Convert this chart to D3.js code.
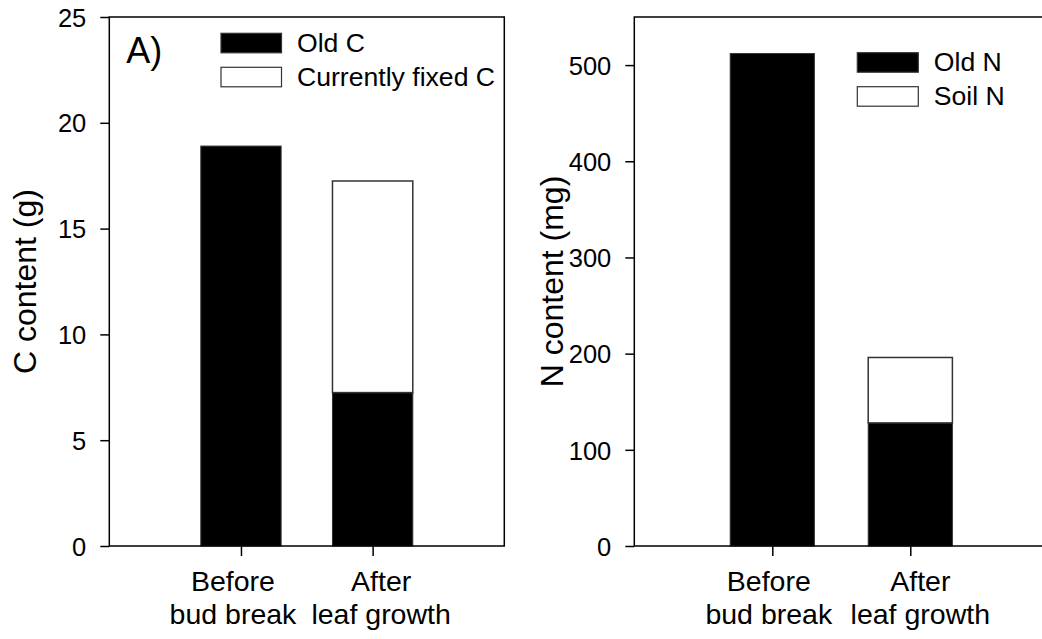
<!DOCTYPE html>
<html><head><meta charset="utf-8">
<script src="https://cdn.jsdelivr.net/npm/d3@7"></script>
<style>
html,body{margin:0;padding:0;background:#fff;}
svg text{font-family:Arial,"Liberation Sans",sans-serif;fill:#000;}
</style></head>
<body><svg id="c" width="1042" height="639"></svg>
<script>
const categories = [["Before","bud break"],["After","leaf growth"]];
const oldC = [18.9, 7.25];
const fixedC = [0, 10.0];
const oldN = [512, 128];
const soilN = [0, 68];
const cTicks = [0,5,10,15,20,25];
const nTicks = [0,100,200,300,400,500];
const legendC = ["Old C","Currently fixed C"];
const legendN = ["Old N","Soil N"];

const svg = d3.select("#c");

function panel(opt){
  const g = svg.append("g").attr("transform",`translate(${opt.left},${opt.top})`);
  const W = opt.width, H = opt.height;
  const x = d3.scaleLinear().domain([0,3]).range([0,W]);
  const y = d3.scaleLinear().domain([0,opt.ymax]).range([H,0]);
  const bw = x(0.61)-x(0);
  opt.base.forEach((v,i)=>{
    g.append("rect").attr("x",x(i+1)-bw/2).attr("y",y(v)).attr("width",bw).attr("height",y(0)-y(v))
      .attr("fill","#000").attr("stroke","#333").attr("stroke-width",1);
  });
  opt.top2.forEach((v,i)=>{
    if(v<=0) return;
    const b = opt.base[i];
    g.append("rect").attr("x",x(i+1)-bw/2).attr("y",y(b+v)).attr("width",bw).attr("height",y(b)-y(b+v))
      .attr("fill","#fff").attr("stroke","#333").attr("stroke-width",1.5);
  });
  g.append("rect").attr("x",0).attr("y",0).attr("width",W).attr("height",H)
    .attr("fill","none").attr("stroke","#000").attr("stroke-width",1.5);
  const ya = g.append("g").call(d3.axisLeft(y).tickValues(opt.ticks).tickSize(9).tickPadding(14).tickFormat(d3.format("d")));
  ya.select(".domain").remove();
  ya.selectAll("line").attr("stroke","#000").attr("stroke-width",1.5);
  ya.selectAll("text").style("font-size","25.5px").attr("dy","0.36em");
  const xa = g.append("g").attr("transform",`translate(0,${H})`)
    .call(d3.axisBottom(x).tickValues([1,2]).tickSize(10).tickFormat(""));
  xa.select(".domain").remove();
  xa.selectAll("line").attr("stroke","#000").attr("stroke-width",1.5);
  categories.forEach((c,i)=>{
    c.forEach((s,j)=>{
      g.append("text").attr("x",x(i+1)+opt.labDx[i]).attr("y",H+44.5+j*33).attr("text-anchor","middle")
        .style("font-size","28.5px").text(s);
    });
  });
  g.append("text").attr("transform",`translate(${opt.titleX},${H/2}) rotate(-90)`)
    .attr("text-anchor","middle").style("font-size","32px").text(opt.title);
  opt.legend.forEach((s,i)=>{
    const ly = opt.legY + i*34;
    g.append("rect").attr("x",opt.legX).attr("y",ly).attr("width",opt.legW).attr("height",19.5)
      .attr("fill",i===0?"#000":"#fff").attr("stroke","#333").attr("stroke-width",1.2);
    g.append("text").attr("x",opt.legX+opt.legW+15.5).attr("y",ly+18.5).style("font-size","26.6px").text(s);
  });
  if(opt.label){
    g.append("text").attr("x",17).attr("y",45.5).style("font-size","36px").text(opt.label);
  }
}

panel({left:109.3, top:17, width:395, height:529, ymax:25, ticks:cTicks,
  base:oldC, top2:fixedC, title:"C content (g)", titleX:36-109.3, labDx:[-8,8.5],
  legend:legendC, legX:221-109.3, legY:33.3-17, legW:60.5, label:"A)"});
panel({left:634.3, top:17, width:414, height:529, ymax:550, ticks:nTicks,
  base:oldN, top2:soilN, title:"N content (mg)", titleX:563-634.3, labDx:[-3.5,10],
  legend:legendN, legX:857.3-634.3, legY:52.7-17, legW:61});
</script></body></html>
